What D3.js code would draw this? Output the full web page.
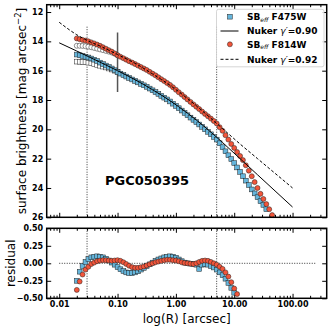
<html>
<head>
<meta charset="utf-8">
<script src="https://d3js.org/d3.v7.min.js"></script>
<style>
  body { margin: 0; background: #fff; }
  text { font-family: "DejaVu Sans", sans-serif; }
</style>
</head>
<body>
<div id="chart"></div>
<script>
// radii of the isophotes [arcsec]
var radius = [0.0200,0.0224,0.0251,0.0282,0.0316,0.0355,0.0398,0.0447,0.0501,0.0562,
  0.0631,0.0708,0.0794,0.0891,0.100,0.112,0.126,0.141,0.158,0.178,
  0.200,0.224,0.251,0.282,0.316,0.355,0.398,0.447,0.501,0.562,
  0.631,0.708,0.794,0.891,1.00,1.12,1.26,1.41,1.58,1.78,
  2.00,2.24,2.51,2.82,3.16,3.55,3.98,4.47,5.01,5.62,
  6.31,7.08,7.94,8.91,10.0,11.2,12.6,14.1,15.8,17.8,
  20.0,22.4,25.1,28.2,31.6,35.5,39.8,44.7];

// deconvolved surface brightness [mag arcsec^-2]
var sbF475W = [14.90,14.95,15.00,15.05,15.10,15.17,15.25,15.34,15.45,15.55,
  15.65,15.75,15.85,15.97,16.10,16.20,16.30,16.40,16.50,16.60,
  16.70,16.80,16.90,17.00,17.10,17.22,17.34,17.46,17.58,17.72,
  17.84,17.96,18.10,18.25,18.40,18.56,18.72,18.88,19.04,19.20,
  19.35,19.51,19.67,19.83,20.00,20.17,20.34,20.52,20.70,20.95,
  21.22,21.50,21.77,22.03,22.30,22.60,22.90,23.20,23.50,23.80,
  24.10,24.37,24.63,24.90,25.15,25.45];
var sbF814W = [13.80,13.85,13.90,13.95,14.00,14.07,14.14,14.22,14.30,14.40,
  14.50,14.60,14.70,14.82,14.95,15.05,15.15,15.25,15.35,15.45,
  15.55,15.65,15.75,15.85,15.95,16.08,16.20,16.32,16.45,16.58,
  16.71,16.84,16.97,17.13,17.30,17.47,17.63,17.80,17.96,18.13,
  18.30,18.46,18.62,18.79,18.95,19.11,19.27,19.43,19.60,19.85,
  20.10,20.40,20.70,21.00,21.27,21.55,21.82,22.10,22.45,22.82,
  23.20,23.60,24.00,24.40,24.75,25.10,25.45,25.85];

// observed (not deconvolved) inner profile, open markers
var obsF475W = [15.38,15.39,15.40,15.42,15.45,15.50,15.55,15.60,15.66,15.72,15.78,15.85,15.92,16.00,16.10];
var obsF814W = [14.30,14.30,14.31,14.33,14.36,14.40,14.45,14.50,14.55,14.60,14.65,14.70,14.76,14.84,14.95];

// Nuker fits
var nukerR = [0.01,0.02,0.0316,0.0501,0.1,0.2,0.398,0.794,1.58,3.16,6.31,12.6,25.1,50.1,100];
var nukerF475W = [14.10,14.66,15.04,15.42,16.00,16.62,17.30,18.05,18.90,19.85,20.90,22.00,23.10,24.20,25.30];
var nukerF814W = [12.70,13.55,13.98,14.32,14.90,15.50,16.22,17.00,17.90,18.90,19.95,21.00,22.00,23.00,24.00];

// residuals (data - fit)
var resF475W = [-0.25,-0.12,-0.04,0.02,0.06,0.085,0.095,0.10,0.095,0.085,
  0.065,0.04,0.01,-0.02,-0.055,-0.085,-0.11,-0.13,-0.14,-0.14,
  -0.13,-0.115,-0.09,-0.065,-0.04,-0.015,0.01,0.035,0.055,0.07,
  0.085,0.095,0.10,0.095,0.08,0.055,0.03,0.01,0.0,-0.005,
  -0.01,-0.02,-0.08,-0.02,-0.01,-0.02,-0.04,-0.06,-0.09,-0.13,
  -0.17,-0.22,-0.28,-0.35,-0.42];
var resF814W = [-0.38,-0.26,-0.16,-0.09,-0.05,-0.01,0.01,0.03,0.04,0.045,
  0.045,0.04,0.035,0.04,0.045,0.035,0.015,-0.01,-0.035,-0.055,
  -0.065,-0.065,-0.055,-0.045,-0.03,-0.015,0.0,0.015,0.025,0.035,
  0.045,0.05,0.05,0.045,0.04,0.03,0.015,0.005,0.0,-0.005,
  -0.01,0.0,0.02,0.035,0.04,0.035,0.02,0.0,-0.02,-0.05,
  -0.08,-0.13,-0.19,-0.27,-0.36,-0.44];

var xTicks = [0.01, 0.1, 1, 10, 100];
var xTickLabels = ["0.01", "0.10", "1.00", "10.00", "100.00"];
var yTicks = [12, 14, 16, 18, 20, 22, 24, 26];
var resTicks = [-0.5, -0.25, 0, 0.25, 0.5];
var limitR = [0.03, 5];      // dotted limits of the fit
var psfR = 0.1;              // gray marker
var psfRange = [13.4, 17.45];

var blue = "#66b6dc", red = "#f2553a";

var left = 46.7, right = 326.7,
    mainTop = 4.7, mainBottom = 217.3,
    resTop = 228.3, resBottom = 298.3;

var svg = d3.select("#chart").append("svg")
  .attr("width", 332).attr("height", 328);

var x = d3.scaleLog().domain([0.0061, 385]).range([left, right]);
var y = d3.scaleLinear().domain([11.5, 26]).range([mainTop, mainBottom]);
var yr = d3.scaleLinear().domain([-0.5, 0.5]).range([resBottom, resTop]);

var minorTicks = x.ticks().filter(function (t) {
  return xTicks.indexOf(t) < 0 && Math.abs(Math.log10(t) - Math.round(Math.log10(t))) > 1e-6;
});

function clip(id, top, bottom) {
  svg.append("clipPath").attr("id", id).append("rect")
    .attr("x", left).attr("y", top).attr("width", right - left).attr("height", bottom - top);
}
clip("clipMain", mainTop, mainBottom);
clip("clipRes", resTop, resBottom);

function xAxes(top, bottom, labels) {
  var fmt = function (d) { return labels ? xTickLabels[xTicks.indexOf(d)] : ""; };
  var b = svg.append("g").attr("transform", "translate(0," + bottom + ")")
    .call(d3.axisBottom(x).tickValues(xTicks).tickFormat(fmt).tickSize(-4.5).tickPadding(3.5));
  svg.append("g").attr("transform", "translate(0," + bottom + ")")
    .call(d3.axisBottom(x).tickValues(minorTicks).tickFormat("").tickSize(-2.5));
  svg.append("g").attr("transform", "translate(0," + top + ")")
    .call(d3.axisTop(x).tickValues(xTicks).tickFormat("").tickSize(-4.5));
  svg.append("g").attr("transform", "translate(0," + top + ")")
    .call(d3.axisTop(x).tickValues(minorTicks).tickFormat("").tickSize(-2.5));
}
function yAxes(scale, ticks, fmt) {
  svg.append("g").attr("transform", "translate(" + left + ",0)")
    .call(d3.axisLeft(scale).tickValues(ticks).tickFormat(fmt).tickSize(-4.5).tickPadding(3.5));
  svg.append("g").attr("transform", "translate(" + right + ",0)")
    .call(d3.axisRight(scale).tickValues(ticks).tickFormat("").tickSize(-4.5));
}

xAxes(mainTop, mainBottom, false);
yAxes(y, yTicks, d3.format("d"));
xAxes(resTop, resBottom, true);
yAxes(yr, resTicks, d3.format(".2f"));

svg.selectAll(".domain").remove();
svg.selectAll(".tick line").attr("stroke", "#000").attr("stroke-width", 1);
svg.selectAll(".tick text").attr("font-family", "DejaVu Sans")
  .attr("font-weight", "bold").attr("font-size", 8).attr("fill", "#000");

// ---------- main panel ----------
var main = svg.append("g").attr("clip-path", "url(#clipMain)");

limitR.forEach(function (r) {
  main.append("line")
    .attr("x1", x(r)).attr("x2", x(r)).attr("y1", y(13)).attr("y2", y(26))
    .attr("stroke", "#000").attr("stroke-width", 0.8).attr("stroke-dasharray", "1,1.5");
});
main.append("line")
  .attr("x1", x(psfR)).attr("x2", x(psfR)).attr("y1", y(psfRange[0])).attr("y2", y(psfRange[1]))
  .attr("stroke", "#555").attr("stroke-width", 1.5);

function squares(g, vals, fill, yscale) {
  g.selectAll(null).data(vals).enter().append("rect")
    .attr("x", function (d, i) { return x(radius[i]) - 2.4; })
    .attr("y", function (d) { return yscale(d) - 2.4; })
    .attr("width", 4.8).attr("height", 4.8)
    .attr("fill", fill).attr("stroke", "#222").attr("stroke-width", 0.5);
}
function circles(g, vals, fill, yscale) {
  g.selectAll(null).data(vals).enter().append("circle")
    .attr("cx", function (d, i) { return x(radius[i]); })
    .attr("cy", function (d) { return yscale(d); })
    .attr("r", 2.5)
    .attr("fill", fill).attr("stroke", "#222").attr("stroke-width", 0.5);
}

circles(main, obsF814W, "#fff", y);
squares(main, obsF475W, "#fff", y);
squares(main, sbF475W, blue, y);
circles(main, sbF814W, red, y);

var nukerLine = function (vals) {
  return d3.line().x(function (d, i) { return x(nukerR[i]); })
    .y(function (d) { return y(d); }).curve(d3.curveMonotoneX)(vals);
};
main.append("path").attr("d", nukerLine(nukerF475W))
  .attr("fill", "none").attr("stroke", "#000").attr("stroke-width", 1);
main.append("path").attr("d", nukerLine(nukerF814W))
  .attr("fill", "none").attr("stroke", "#000").attr("stroke-width", 1)
  .attr("stroke-dasharray", "3,2");

svg.append("text").attr("x", 105).attr("y", 185)
  .attr("font-weight", "bold").attr("font-size", 13).text("PGC050395");

// legend
var lg = svg.append("g").attr("transform", "translate(216.5,9.3)");
lg.append("rect").attr("width", 107.5).attr("height", 57.5).attr("rx", 2)
  .attr("fill", "#fff").attr("fill-opacity", 0.85).attr("stroke", "#ccc").attr("stroke-width", 0.8);
var rows = [7.4, 21.7, 35, 50];
lg.append("rect").attr("x", 11).attr("y", rows[0] - 2.4).attr("width", 4.8).attr("height", 4.8)
  .attr("fill", blue).attr("stroke", "#222").attr("stroke-width", 0.5);
lg.append("line").attr("x1", 4).attr("x2", 22).attr("y1", rows[1]).attr("y2", rows[1])
  .attr("stroke", "#000").attr("stroke-width", 1);
lg.append("circle").attr("cx", 13.4).attr("cy", rows[2]).attr("r", 2.5)
  .attr("fill", red).attr("stroke", "#222").attr("stroke-width", 0.5);
lg.append("line").attr("x1", 4).attr("x2", 22).attr("y1", rows[3]).attr("y2", rows[3])
  .attr("stroke", "#000").attr("stroke-width", 1).attr("stroke-dasharray", "3,2");

function sbLabel(yy, band) {
  var t = lg.append("text").attr("x", 30.5).attr("y", yy + 3.3)
    .attr("font-weight", "bold").attr("font-size", 9);
  t.append("tspan").text("SB");
  t.append("tspan").attr("font-style", "italic").attr("font-weight", "normal")
    .attr("font-size", 6).attr("dy", 1.8).text("eff");
  t.append("tspan").attr("dy", -1.8).text(" " + band);
}
function nukerLabel(yy, g) {
  var t = lg.append("text").attr("x", 30.5).attr("y", yy + 3.3)
    .attr("font-weight", "bold").attr("font-size", 9);
  t.append("tspan").text("Nuker ");
  t.append("tspan").attr("font-style", "italic").attr("font-weight", "normal").text("γ′");
  t.append("tspan").text("=" + g);
}
sbLabel(rows[0], "F475W");
nukerLabel(rows[1], "0.90");
sbLabel(rows[2], "F814W");
nukerLabel(rows[3], "0.92");

// ---------- residual panel ----------
var res = svg.append("g").attr("clip-path", "url(#clipRes)");
res.append("line").attr("x1", x(0.01)).attr("x2", x(250)).attr("y1", yr(0)).attr("y2", yr(0))
  .attr("stroke", "#000").attr("stroke-width", 0.8).attr("stroke-dasharray", "1,1.5");
limitR.forEach(function (r) {
  res.append("line").attr("x1", x(r)).attr("x2", x(r)).attr("y1", resTop).attr("y2", resBottom)
    .attr("stroke", "#000").attr("stroke-width", 0.8).attr("stroke-dasharray", "1,1.5");
});
squares(res, resF475W, blue, yr);
circles(res, resF814W, red, yr);

// spines
[[mainTop, mainBottom], [resTop, resBottom]].forEach(function (p) {
  svg.append("rect").attr("x", left).attr("y", p[0])
    .attr("width", right - left).attr("height", p[1] - p[0])
    .attr("fill", "none").attr("stroke", "#000").attr("stroke-width", 1.5);
});

// axis titles
var ylab = svg.append("text").attr("transform", "translate(25.5," + ((mainTop + mainBottom) / 2) + ") rotate(-90)")
  .attr("text-anchor", "middle").attr("font-size", 12);
ylab.append("tspan").text("surface brightness [mag arcsec");
ylab.append("tspan").attr("font-size", 8.5).attr("dy", -4.5).text("−2");
ylab.append("tspan").attr("dy", 4.5).text("]");

svg.append("text").attr("transform", "translate(15," + ((resTop + resBottom) / 2) + ") rotate(-90)")
  .attr("text-anchor", "middle").attr("font-size", 12).text("residual");

svg.append("text").attr("x", (left + right) / 2).attr("y", 323)
  .attr("text-anchor", "middle").attr("font-size", 12).text("log(R) [arcsec]");
</script>
</body>
</html>
